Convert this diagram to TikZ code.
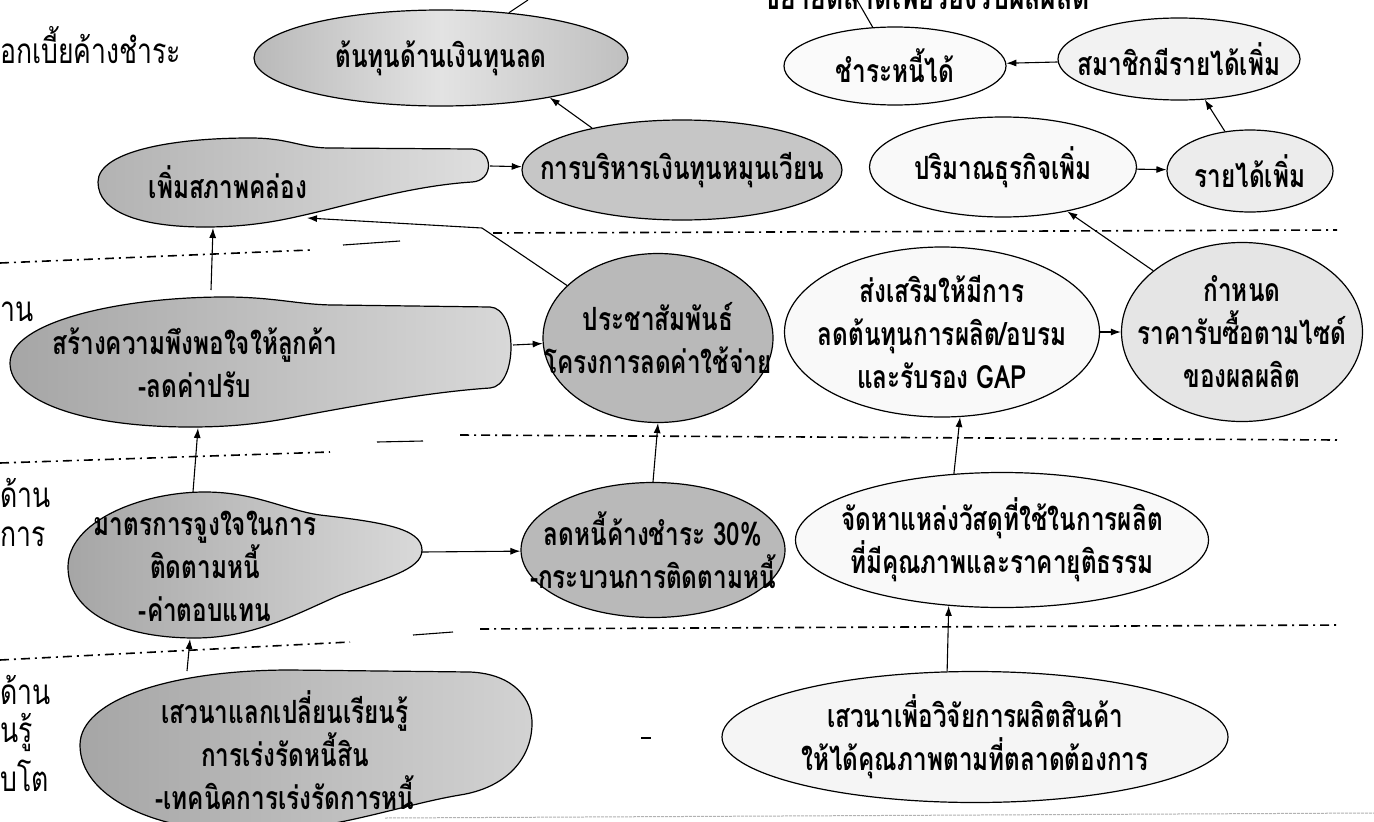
\documentclass[tikz,border=0pt]{standalone}
\usepackage{fontspec}
\newfontfamily\thai[Script=Thai,FakeStretch=0.76]{Loma}
\usetikzlibrary{shapes.geometric,arrows.meta}
\newcommand\nodefont{\thai\bfseries\fontsize{32}{43}\selectfont}
\newcommand\labelfont{\thai\fontsize{35}{40}\selectfont}
\tikzset{
  ell/.style={ellipse, draw, line width=1.2pt, inner sep=0pt},
  txt/.style={inner sep=0pt, align=center, font=\nodefont},
  lbl/.style={inner sep=0pt, font=\labelfont},
  blob/.style={draw, line width=1.2pt},
  arr/.style={-{Latex[length=10pt,width=7pt]}, line width=1.1pt},
  plainline/.style={line width=1.1pt},
  sepline/.style={line width=1.6pt, dash pattern=on 9pt off 5pt on 2pt off 5pt},
}
\begin{document}
\begin{tikzpicture}[x=1pt,y=-1pt]
\useasboundingbox (0,0) rectangle (1374,822);
\clip (0,0) rectangle (1374,822);
\fill[white] (0,0) rectangle (1374,822);

% separators
\draw[sepline] (0,263) -- (310,250);
\draw[plainline] (343,245) -- (400,241);
\draw[sepline] (493,233) -- (1337,230);
\draw[sepline] (0,463) -- (330,452);
\draw[plainline] (377,442) -- (423,441);
\draw[sepline] (460,435) -- (1337,440);
\draw[sepline] (0,660) -- (350,642);
\draw[plainline] (413,635) -- (453,632);
\draw[sepline] (480,629) -- (1340,625);
\draw[gray!60, line width=1pt, dash pattern=on 3pt off 1pt] (385,818) -- (1374,813);
\draw[plainline] (641,738) -- (651,738);

% left labels
\node[lbl, anchor=west] (lt) at (0,45) {อกเบี้ยค้างชำระ};
\node[lbl, anchor=west] (l2) at (0,312) {าน};
\node[lbl, anchor=west] (l3a) at (0,493) {ด้าน};
\node[lbl, anchor=west] (l3b) at (0,537) {การ};
\node[lbl, anchor=west] (l4a) at (0,690) {ด้าน};
\node[lbl, anchor=west] (l4b) at (0,732) {นรู้};
\node[lbl, anchor=west] (l4c) at (0,776) {บโต};
\node[inner sep=0pt, font=\thai\bfseries\fontsize{35}{40}\selectfont, anchor=base] (topT) at (926,9) {ขยายตลาดเพื่อรองรับผลผลิต};

% blobs
\path[blob, left color=gray!60, right color=gray!25]
  (98,182) .. controls (98,152) and (170,138) .. (250,138)
  .. controls (290,138) and (300,148) .. (330,148) -- (472,149)
  .. controls (494,150) and (494,181) .. (472,182)
  .. controls (410,186) and (350,205) .. (300,216)
  .. controls (270,223) and (240,227) .. (205,227)
  .. controls (140,227) and (98,212) .. (98,182) -- cycle;
\coordinate (liq-e) at (490,166);
\coordinate (liq-s) at (213,228);
\coordinate (liq-se) at (307,218);
\node[txt] (liqT) at (228,182) {เพิ่มสภาพคล่อง};

\path[blob, left color=gray!70, right color=gray!30]
  (10,363) .. controls (10,322) and (120,297) .. (225,297)
  .. controls (275,297) and (300,305) .. (335,305) -- (490,307)
  .. controls (518,308) and (518,386) .. (490,388)
  .. controls (430,392) and (360,405) .. (300,416)
  .. controls (260,424) and (230,427) .. (190,427)
  .. controls (80,427) and (10,400) .. (10,363) -- cycle;
\coordinate (sat-e) at (513,345);
\coordinate (sat-n) at (211,290);
\coordinate (sat-s) at (198,428);
\node[txt] (satT) at (195,363) {สร้างความพึงพอใจให้ลูกค้า\\-ลดค่าปรับ};

\path[blob, left color=gray!70, right color=gray!30]
  (68,567) .. controls (68,522) and (140,492) .. (205,492)
  .. controls (255,492) and (285,510) .. (320,515)
  .. controls (380,522) and (422,528) .. (422,550)
  .. controls (422,570) and (385,578) .. (340,595)
  .. controls (300,612) and (255,638) .. (195,638)
  .. controls (120,638) and (68,612) .. (68,567) -- cycle;
\coordinate (mt-e) at (422,552);
\coordinate (mt-n) at (193,492);
\coordinate (mt-s) at (190,639);
\node[txt] (mtT) at (205,566) {มาตรการจูงใจในการ\\ติดตามหนี้\\-ค่าตอบแทน};

\path[blob, left color=gray!70, right color=gray!35]
  (80,745) .. controls (80,700) and (170,670) .. (290,670) -- (470,672)
  .. controls (515,674) and (533,700) .. (532,725)
  .. controls (531,760) and (505,788) .. (460,795)
  .. controls (400,805) and (330,832) .. (250,832)
  .. controls (150,832) and (80,795) .. (80,745) -- cycle;
\coordinate (ex-n) at (187,671);
\node[txt] (exT) at (285,750) {เสวนาแลกเปลี่ยนเรียนรู้\\การเร่งรัดหนี้สิน\\-เทคนิคการเร่งรัดการหนี้};

% ellipses
\node[ell, left color=gray!55, right color=gray!50, middle color=gray!22, minimum width=374pt, minimum height=96pt] (cost) at (441,58) {};
\node[txt] (costT) at (cost) {ต้นทุนด้านเงินทุนลด};
\node[ell, fill=gray!45, minimum width=320pt, minimum height=100pt] (admin) at (682,170) {};
\node[txt] (adminT) at (admin) {การบริหารเงินทุนหมุนเวียน};
\node[ell, fill=gray!4, minimum width=222pt, minimum height=78pt] (pay) at (895,66) {};
\node[txt] (payT) at (pay) {ชำระหนี้ได้};
\node[ell, fill=gray!10, minimum width=242pt, minimum height=82pt] (member) at (1179,59) {};
\node[txt] (memberT) at (member) {สมาชิกมีรายได้เพิ่ม};
\node[ell, fill=gray!5, minimum width=267pt, minimum height=100pt] (volume) at (1003,167) {};
\node[txt] (volumeT) at (volume) {ปริมาณธุรกิจเพิ่ม};
\node[ell, fill=gray!15, minimum width=166pt, minimum height=82pt] (income) at (1250,171) {};
\node[txt] (incomeT) at (income) {รายได้เพิ่ม};
\node[ell, fill=gray!55, minimum width=230pt, minimum height=169pt] (pr) at (658,338) {};
\node[txt] (prT) at (pr) {ประชาสัมพันธ์\\โครงการลดค่าใช้จ่าย};
\node[ell, fill=gray!5, minimum width=315pt, minimum height=170pt] (promote) at (942,332) {};
\node[txt] (promoteT) at (promote) {ส่งเสริมให้มีการ\\ลดต้นทุนการผลิต/อบรม\\และรับรอง GAP};
\node[ell, fill=gray!20, minimum width=241pt, minimum height=179pt] (price) at (1242,332) {};
\node[txt] (priceT) at (price) {กำหนด\\ราคารับซื้อตามไซด์\\ของผลผลิต};
\node[ell, fill=gray!55, minimum width=264pt, minimum height=135pt] (reduce) at (653,550) {};
\node[txt] (reduceT) at (reduce) {ลดหนี้ค้างชำระ 30\%\\-กระบวนการติดตามหนี้};
\node[ell, fill=gray!5, minimum width=413pt, minimum height=135pt] (supply) at (1002,540) {};
\node[txt] (supplyT) at (supply) {จัดหาแหล่งวัสดุที่ใช้ในการผลิต\\ที่มีคุณภาพและราคายุติธรรม};
\node[ell, fill=gray!8, minimum width=506pt, minimum height=131pt] (research) at (975,737) {};
\node[txt] (researchT) at (research) {เสวนาเพื่อวิจัยการผลิตสินค้า\\ให้ได้คุณภาพตามที่ตลาดต้องการ};

% connectors
\coordinate (topA) at (528,0);
\coordinate (topB) at (857,0);
\draw[plainline] (topA) -- (cost);
\draw[plainline] (topB) -- (pay);
\draw[arr] (liq-e) -- (admin);
\draw[arr] (admin.155) -- (cost.-20);
\draw[arr] (member) -- (pay);
\draw[arr] (income) -- (member);
\draw[arr] (volume) -- (income);
\draw[arr] (price) -- (volume);
\draw[arr] (promote) -- (price);
\draw[arr] (supply.126) -- (promote.-78);
\draw[arr] (research.113) -- (supply.231);
\draw[arr] (reduce.north) -- (pr.south);
\draw[arr] (mt-e) -- (reduce);
\draw[arr] (ex-n) -- (mt-s);
\draw[arr] (mt-n) -- (sat-s);
\draw[arr] (sat-e) -- (pr);
\draw[arr] (sat-n) -- (liq-s);
\draw[arr] (pr.150) -- (482,228) -- (liq-se);
\end{tikzpicture}
\end{document}
